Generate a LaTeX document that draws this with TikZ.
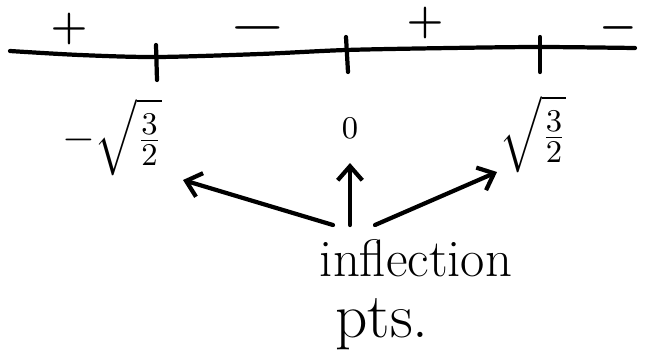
\documentclass[tikz,border=0pt]{standalone}
\usetikzlibrary{arrows.meta}
\usepackage{graphicx}
\usepackage{amsmath}
\begin{document}
\begin{tikzpicture}[x=0.01cm,y=-0.01cm,
  pen/.style={line width=1.2pt,line cap=round,line join=round},
  arr/.style={pen,-{Straight Barb[length=4pt,width=7pt]}},
  sgn/.style={inner sep=0pt},
  lbl/.style={inner sep=0pt}]
\useasboundingbox (0,0) rectangle (654,351);
% number line
\draw[pen] plot[smooth] coordinates {(10,51) (80,55) (156,57) (260,54) (346,50) (450,48) (540,47) (635,48)};
% ticks
\coordinate (t1a) at (156,45); \coordinate (t1b) at (157,80);
\coordinate (t2a) at (346,37); \coordinate (t2b) at (348,72);
\coordinate (t3a) at (540,37); \coordinate (t3b) at (540,72);
\draw[pen] (t1a) -- (t1b);
\draw[pen] (t2a) -- (t2b);
\draw[pen] (t3a) -- (t3b);
% signs
\node[sgn,font=\fontsize{12}{13}\selectfont] (s1) at (69,29) {$\boldsymbol{+}$};
\node[sgn,font=\fontsize{12}{13}\selectfont] (s2) at (258,28) {\scalebox{1.5}[1]{$\boldsymbol{-}$}};
\node[sgn,font=\fontsize{12}{13}\selectfont] (s3) at (425,23) {$\boldsymbol{+}$};
\node[sgn,font=\fontsize{12}{13}\selectfont] (s4) at (618,28) {$\boldsymbol{-}$};
% labels
\node[lbl,font=\fontsize{13}{15}\selectfont] (m) at (112,137) {$-\sqrt{\frac{3}{2}}$};
\node[lbl,font=\fontsize{9}{10}\selectfont] (z) at (350,128) {$0$};
\node[lbl,font=\fontsize{13}{15}\selectfont] (p) at (533,134) {$\sqrt{\frac{3}{2}}$};
% text
\node[lbl,font=\fontsize{15}{17}\selectfont] (infl) at (416,258) {inflection};
\node[lbl,font=\fontsize{18}{20}\selectfont] (pts) at (382,324) {pts.};
% arrows
\coordinate (a1s) at (333,225); \coordinate (a1e) at (183,180);
\coordinate (a2s) at (350,225); \coordinate (a2e) at (350,163);
\coordinate (a3s) at (375,225); \coordinate (a3e) at (497,172);
\draw[arr] (a1s) -- (a1e);
\draw[arr] (a2s) -- (a2e);
\draw[arr] (a3s) -- (a3e);
\end{tikzpicture}
\end{document}
